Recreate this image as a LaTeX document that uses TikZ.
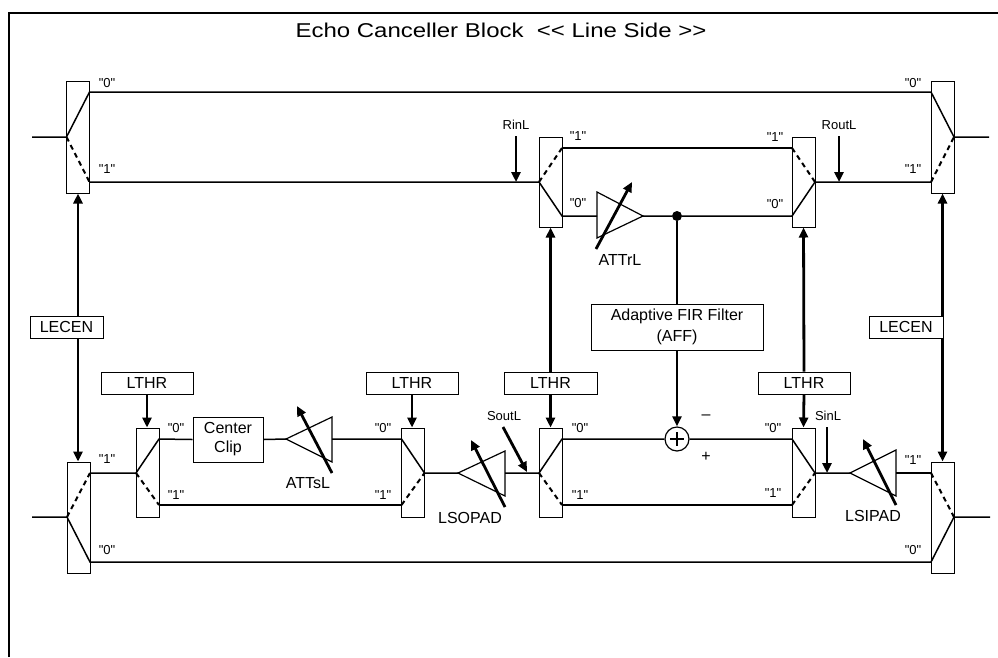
\documentclass[tikz,border=0pt]{standalone}
\usepackage{fontspec}
\setmainfont{Liberation Sans}[Ligatures=TeXOff]
\usetikzlibrary{arrows.meta}
\begin{document}
\begin{tikzpicture}[x=1pt,y=-1pt,
 sig/.style={line width=1.5pt},
 swbox/.style={draw,line width=1pt,minimum width=23pt,inner sep=0pt},
 dsh/.style={line width=2pt,dash pattern=on 5pt off 4pt},
 tip/.style={-{Triangle[length=10pt,width=9pt]}},
 ctl/.style={line width=2.8pt,tip},
 ctlb/.style={line width=2.8pt,{Triangle[length=10pt,width=9pt]}-{Triangle[length=10pt,width=9pt]}},
 lblbox/.style={draw,line width=1pt,minimum height=22pt,inner sep=0pt,fill=white,font=\fontsize{16}{18}\selectfont},
 lbl/.style={font=\fontsize{16}{18}\selectfont,inner sep=0pt},
 sm/.style={font=\fontsize{13}{15}\selectfont,inner sep=0pt},
 amp/.style={line width=1.2pt,fill=white},
]
\useasboundingbox (0,0) rectangle (998,657);
% frame
\draw[line width=1.5pt] (9,657) -- (9,13) -- (998,13);
\node[font=\fontsize{20}{24}\selectfont,inner sep=0pt] (title) at (501,30) {\scalebox{1.2}[1]{Echo Canceller Block\ \ <\kern0pt< Line Side >\kern0pt>}};

% switch boxes
\node[swbox,minimum height=112pt] (sw1) at (78,137) {};
\node[swbox,minimum height=112pt] (sw2) at (942.5,137) {};
\node[swbox,minimum height=90pt] (sw3) at (550.5,182) {};
\node[swbox,minimum height=90pt] (sw4) at (803.5,182) {};
\node[swbox,minimum height=111pt] (sw5) at (78.5,517.5) {};
\node[swbox,minimum height=89pt] (sw6) at (147.5,472.5) {};
\node[swbox,minimum height=89pt] (sw7) at (413,472.5) {};
\node[swbox,minimum height=89pt] (sw8) at (550.5,472.5) {};
\node[swbox,minimum height=89pt] (sw9) at (803.5,472.5) {};
\node[swbox,minimum height=111pt] (sw10) at (942.5,517.5) {};

% ports
\coordinate (in1) at (32,137); \coordinate (sw1p) at (66.5,137);
\coordinate (sw1a) at (89.5,92); \coordinate (sw1b) at (89.5,182);
\coordinate (sw2a) at (931,92); \coordinate (sw2b) at (931,182);
\coordinate (sw2p) at (954,137); \coordinate (out2) at (989,137);
\coordinate (sw3p) at (539,182); \coordinate (sw3a) at (562,148); \coordinate (sw3b) at (562,216);
\coordinate (sw4a) at (792,148); \coordinate (sw4b) at (792,216); \coordinate (sw4p) at (815,182);
\coordinate (in5) at (32,517); \coordinate (sw5p) at (67,517);
\coordinate (sw5a) at (90,473); \coordinate (sw5b) at (90,562);
\coordinate (sw6p) at (136,473); \coordinate (sw6a) at (159,439); \coordinate (sw6b) at (159,505);
\coordinate (sw7a) at (401.5,439); \coordinate (sw7b) at (401.5,505); \coordinate (sw7p) at (424.5,473);
\coordinate (sw8p) at (539,473); \coordinate (sw8a) at (562,439); \coordinate (sw8b) at (562,505);
\coordinate (sw9a) at (792,439); \coordinate (sw9b) at (792,505); \coordinate (sw9p) at (815,473);
\coordinate (sw10a) at (931,473); \coordinate (sw10b) at (931,562);
\coordinate (sw10p) at (954,517); \coordinate (out10) at (990,517);

% amplifiers
\coordinate (attrI) at (597,216); \coordinate (attrO) at (643,216);
\draw[amp] (597,192) -- (attrO) -- (597,238) -- cycle;
\coordinate (attsI) at (286,439); \coordinate (attsO) at (332,439);
\draw[amp] (attsI) -- (332,417) -- (332,462) -- cycle;
\coordinate (lsoI) at (458,473); \coordinate (lsoO) at (505,473);
\draw[amp] (lsoI) -- (505,451) -- (505,496) -- cycle;
\coordinate (lsiI) at (850,473); \coordinate (lsiO) at (896,473);
\draw[amp] (lsiI) -- (896,450) -- (896,496) -- cycle;

% other blocks
\node[draw,line width=1pt,minimum width=70pt,minimum height=45pt,inner sep=0pt,align=center,lbl] (cc) at (228,439.5) {Center\\[1pt]Clip};
\node[draw,line width=1pt,minimum width=172pt,minimum height=46pt,inner sep=0pt,align=center,lbl] (aff) at (677,327) {Adaptive FIR Filter\\[3pt](AFF)};
\node[circle,fill,inner sep=0pt,minimum size=10pt] (dot) at (677,216) {};
\node[circle,draw,line width=1.2pt,minimum size=24pt,inner sep=0pt] (sum) at (677,439) {};
\draw[line width=1.2pt] (670,439) -- (684,439) (677,432) -- (677,446);

% top signal lines
\draw[sig] (in1) -- (sw1p) -- (sw1a) -- (sw2a) -- (sw2p) -- (out2);
\draw[dsh] (sw1p) -- (sw1b);
\draw[sig] (sw1b) -- (sw3p) -- (sw3b) -- (attrI);
\draw[dsh] (sw3p) -- (sw3a);
\draw[sig] (sw3a) -- (sw4a);
\draw[dsh] (sw4a) -- (sw4p);
\draw[sig] (attrO) -- (dot) -- (sw4b) -- (sw4p) -- (sw2b);
\draw[dsh] (sw2b) -- (sw2p);

% bottom signal lines
\draw[sig] (in5) -- (sw5p) -- (sw5b) -- (sw10b) -- (sw10p) -- (out10);
\draw[dsh] (sw5p) -- (sw5a);
\draw[sig] (sw5a) -- (sw6p) -- (sw6a) -- (cc.west);
\draw[dsh] (sw6p) -- (sw6b);
\draw[sig] (cc.east) -- (attsI);
\draw[sig] (attsO) -- (sw7a) -- (sw7p) -- (lsoI);
\draw[sig] (sw6b) -- (sw7b);
\draw[dsh] (sw7b) -- (sw7p);
\draw[sig] (lsoO) -- (sw8p) -- (sw8a) -- (sum.west);
\draw[dsh] (sw8p) -- (sw8b);
\draw[sig] (sw8b) -- (sw9b);
\draw[dsh] (sw9b) -- (sw9p);
\draw[sig] (sum.east) -- (sw9a) -- (sw9p) -- (lsiI);
\draw[sig] (lsiO) -- (sw10a);
\draw[dsh] (sw10a) -- (sw10p);

% amplifier arrows
\coordinate (attrT) at (596,249); \coordinate (attrH) at (632,182);
\draw[ctl] (attrT) -- (attrH);
\coordinate (attsT) at (332,473); \coordinate (attsH) at (297,406);
\draw[ctl] (attsT) -- (attsH);
\coordinate (lsoT) at (505,507); \coordinate (lsoH) at (471,440);
\draw[ctl] (lsoT) -- (lsoH);
\coordinate (lsiT) at (896,505); \coordinate (lsiH) at (863,439);
\draw[ctl] (lsiT) -- (lsiH);

% AFF connections
\draw[line width=2.8pt] (dot) -- (aff.north);
\draw[ctl] (aff.south) -- (sum.north);

% control boxes
\node[lblbox,minimum width=92pt] (lthr1) at (147,383) {LTHR};
\node[lblbox,minimum width=92pt] (lthr2) at (412,383) {LTHR};
\node[lblbox,minimum width=93pt] (lthr3) at (550.5,383) {LTHR};
\node[lblbox,minimum width=92pt] (lthr4) at (804,383) {LTHR};
\draw[ctl] (lthr1.south) -- (lthr1.south |- sw6.north);
\draw[ctl] (lthr2.south) -- (lthr2.south |- sw7.north);
\draw[ctl] (lthr3.north) -- (sw3.south);
\draw[ctl] (lthr3.south) -- (sw8.north);
\draw[ctl] (lthr4.north) -- (sw4.south);
\draw[ctl] (lthr4.south) -- (sw9.north);
\draw[ctlb] (sw1.south) -- (sw1.south |- sw5.north);
\draw[ctlb] (sw2.south) -- (sw10.north);
\node[lblbox,minimum width=73pt] (lecen1) at (66.5,327) {LECEN};
\node[lblbox,minimum width=74pt] (lecen2) at (906,327) {LECEN};

% side inputs
\coordinate (rinT) at (516,136); \coordinate (rinB) at (516,182);
\draw[ctl] (rinT) -- (rinB);
\node[sm] (rinl) at (516,125) {RinL};
\coordinate (routT) at (839,136); \coordinate (routB) at (839,182);
\draw[ctl] (routT) -- (routB);
\node[sm] (routl) at (839,125) {RoutL};
\coordinate (soutT) at (503,427); \coordinate (soutB) at (527,472);
\draw[ctl] (soutT) -- (soutB);
\node[sm] (soutl) at (504,416) {SoutL};
\coordinate (sinT) at (827,427); \coordinate (sinB) at (827,473);
\draw[ctl] (sinT) -- (sinB);
\node[sm] (sinl) at (828,416) {SinL};

% amplifier labels
\node[lbl] (lattr) at (620,260) {ATTrL};
\node[lbl] (latts) at (308,483) {ATTsL};
\node[lbl] (llso) at (470,518) {LSOPAD};
\node[lbl] (llsi) at (873,516) {LSIPAD};
\node[lbl] (lminus) at (706,417) {\textendash};
\node[lbl] (lplus) at (706,457) {+};

% port labels
\node[sm] (t1a) at (107,83) {"0"};  \node[sm] (t1b) at (107,169) {"1"};
\node[sm] (t2a) at (913,83) {"0"};  \node[sm] (t2b) at (913,169) {"1"};
\node[sm] (t3a) at (578,136) {"1"}; \node[sm] (t3b) at (578,203) {"0"};
\node[sm] (t4a) at (775,137) {"1"}; \node[sm] (t4b) at (775,204) {"0"};
\node[sm] (t5a) at (107,459) {"1"}; \node[sm] (t5b) at (107,550) {"0"};
\node[sm] (t6a) at (176,428) {"0"}; \node[sm] (t6b) at (176,495) {"1"};
\node[sm] (t7a) at (383,428) {"0"}; \node[sm] (t7b) at (383,495) {"1"};
\node[sm] (t8a) at (580,428) {"0"}; \node[sm] (t8b) at (580,495) {"1"};
\node[sm] (t9a) at (773,428) {"0"}; \node[sm] (t9b) at (773,493) {"1"};
\node[sm] (t10a) at (913,460) {"1"}; \node[sm] (t10b) at (913,550) {"0"};
\end{tikzpicture}
\end{document}
